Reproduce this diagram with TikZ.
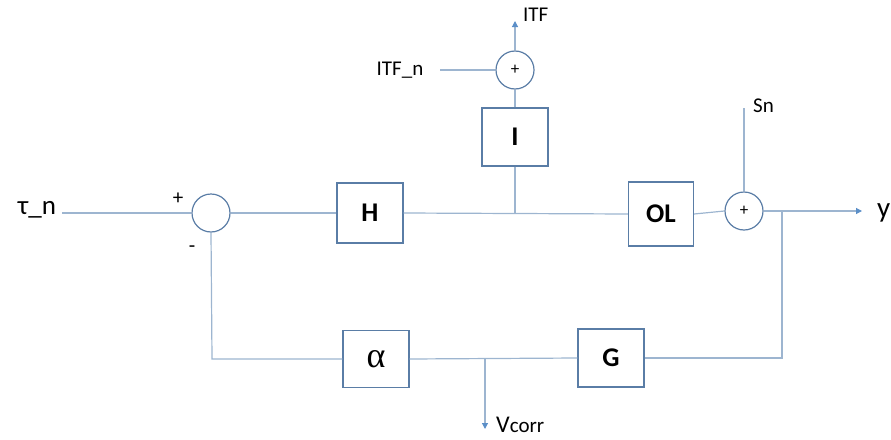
\documentclass[tikz,border=0pt]{standalone}
\usepackage{fontspec}
\setmainfont{Carlito}
\newfontfamily\greekserif{Liberation Serif}
\usetikzlibrary{arrows.meta}
\definecolor{lineC}{HTML}{9DB5D0}
\definecolor{boxC}{HTML}{5A7DA6}
\definecolor{tipC}{HTML}{5B8FC8}
\tikzset{
  blk/.style={draw=boxC, line width=1.3pt, minimum width=66pt, minimum height=60pt, inner sep=0pt, font=\fontsize{27}{30}\selectfont\bfseries},
  sumc/.style={circle, draw=boxC, line width=1.2pt, minimum size=38pt, inner sep=0pt, font=\fontsize{17}{19}\selectfont},
  wire/.style={draw=lineC, line width=1.2pt},
  arr/.style={wire, -{Triangle[length=6pt,width=6pt,color=tipC]}},
  lbl/.style={font=\fontsize{21}{23}\selectfont, inner sep=0pt},
}
\begin{document}
\begin{tikzpicture}[x=1pt,y=-1pt]
\useasboundingbox (0,0) rectangle (891,439);
% nodes
\node[lbl, font=\fontsize{27}{29}\selectfont] (tau) at (37,210) {τ\_n};
\coordinate (tin) at (62,213);
\node[sumc] (s1) at (211,213) {};
\node[lbl] (plus1) at (178,199) {+};
\node[lbl] (minus1) at (192,249) {-};
\node[blk] (H) at (370,213) {H};
\coordinate (j1) at (515,213);
\node[blk, minimum height=58pt] (I) at (515,137) {I};
\node[sumc] (s2) at (515,70) {+};
\node[lbl] (itfn) at (400,70) {ITF\_n};
\coordinate (itfnin) at (440,70);
\node[lbl, anchor=west] (itf) at (523,15) {ITF};
\coordinate (itfout) at (515,21);
\node[blk, minimum height=64pt, minimum width=65pt] (OL) at (661,214) {OL};
\node[sumc] (s3) at (744,211) {+};
\coordinate (snin) at (744,108);
\node[lbl, anchor=west] (sn) at (753,106) {Sn};
\coordinate (b1) at (782,211);
\coordinate (yout) at (862,211);
\node[lbl, font=\fontsize{29}{31}\selectfont, anchor=west] (y) at (877,213) {y};
\coordinate (b2) at (782,358);
\node[blk, minimum height=58pt] (G) at (611,358) {G};
\node[blk, minimum height=57pt, font=\fontsize{36}{38}\selectfont\greekserif] (A) at (376,359) {α};
\coordinate (c1) at (212,359);
\coordinate (j2) at (485,359);
\coordinate (vout) at (485,429);
\node[lbl, anchor=west, font=\fontsize{24}{26}\selectfont] (vcorr) at (496,425) {V\fontsize{21}{23}\selectfont corr};
% wires
\draw[wire] (tin) -- (s1.west);
\draw[wire] (s1.east) -- (H.west);
\draw[wire] (H.east) -- (OL.west);
\draw[wire] (I.south) -- (j1);
\draw[wire] (I.north) -- (s2.south);
\draw[arr] (s2.north) -- (itfout);
\draw[wire] (itfnin) -- (s2.west);
\draw[wire] (OL.east) -- (s3.west);
\draw[wire] (snin) -- (s3.north);
\draw[arr] (s3.east) -- (yout);
\draw[wire] (b1) -- (b2) -- (G.east);
\draw[wire] (G.west) -- (A.east);
\draw[wire] (s1.south) -- (c1) -- (A.west);
\draw[arr] (j2) -- (vout);
\end{tikzpicture}
\end{document}
